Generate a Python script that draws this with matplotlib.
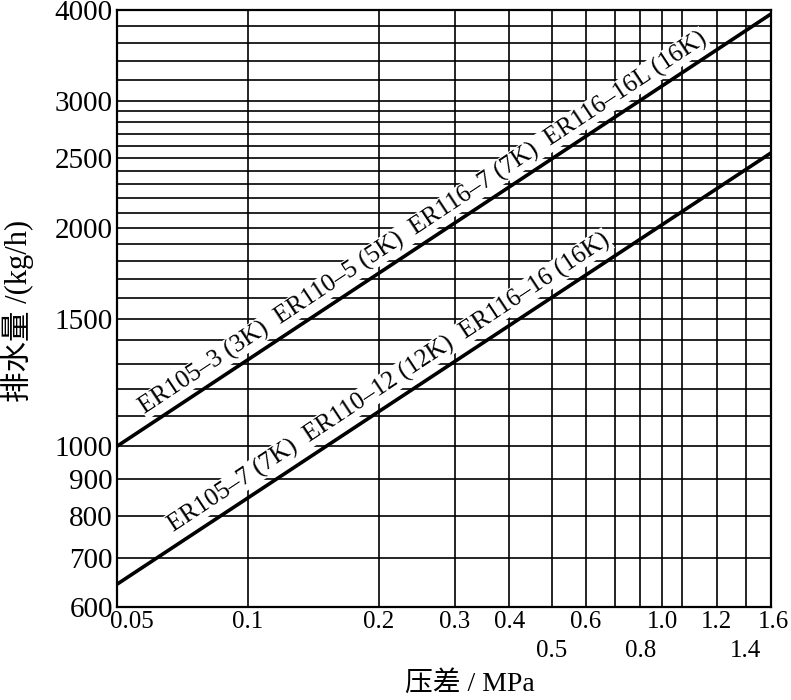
import numpy as np
import matplotlib.pyplot as plt
from matplotlib.transforms import ScaledTranslation

# data
dp = [0.05, 1.6]                  # MPa
flow_upper = [1000, 3950]         # kg/h
flow_lower = [645, 2540]

label_upper = "ER105–3 (3K)  ER110–5 (5K)  ER116–7 (7K)  ER116–16L (16K)"
label_lower = "ER105–7 (7K)  ER110–12 (12K)  ER116–16 (16K)"

x_grid = [0.1, 0.2, 0.3, 0.4, 0.5, 0.6, 0.7, 0.8, 0.9, 1.0, 1.2, 1.4]
y_grid = list(range(700, 3000, 100)) + [3000, 3200, 3400, 3600, 3800]

x_ticks_row1 = [0.05, 0.1, 0.2, 0.3, 0.4, 0.6, 1.0, 1.2, 1.6]
x_labels_row1 = ["0.05", "0.1", "0.2", "0.3", "0.4", "0.6", "1.0", "1.2", "1.6"]
x_ticks_row2 = [0.5, 0.8, 1.4]
x_labels_row2 = ["0.5", "0.8", "1.4"]
y_ticks = [600, 700, 800, 900, 1000, 1500, 2000, 2500, 3000, 4000]

serif = ['Liberation Serif', 'Noto Sans CJK SC']
plt.rcParams['font.family'] = serif

fig = plt.figure(figsize=(7.91, 7.0), dpi=100)
ax = fig.add_axes([117 / 791, 1 - 607 / 700, 654 / 791, 597 / 700])
ax.set_xscale('log')
ax.set_yscale('log')
ax.set_xlim(0.05, 1.6)
ax.set_ylim(600, 4000)

for x in x_grid:
    ax.axvline(x, color='black', lw=1.2, zorder=1)
for y in y_grid:
    ax.axhline(y, color='black', lw=1.2, zorder=1)

ax.plot(dp, flow_upper, color='black', lw=2.6, zorder=3, solid_capstyle='butt')
ax.plot(dp, flow_lower, color='black', lw=2.6, zorder=3, solid_capstyle='butt')

# rotation of the lines on screen
p0 = ax.transData.transform((dp[0], flow_upper[0]))
p1 = ax.transData.transform((dp[1], flow_upper[1]))
angle = np.degrees(np.arctan2(p1[1] - p0[1], p1[0] - p0[0]))

def place(x0, xs, ys, text, gap):
    # point on line at x0, shifted perpendicular by gap px
    y0 = np.exp(np.interp(np.log(x0), np.log(xs), np.log(ys)))
    px, py = ax.transData.transform((x0, y0))
    a = np.radians(angle)
    px -= gap * np.sin(a)
    py += gap * np.cos(a)
    tx, ty = ax.transData.inverted().transform((px, py))
    ax.text(tx, ty, text, rotation=angle, rotation_mode='anchor',
            ha='left', va='bottom', fontsize=18.2, zorder=4,
            bbox=dict(fc='white', ec='none', pad=0.5))

place(0.0599, dp, flow_upper, label_upper, 6)
place(0.070, dp, flow_lower, label_lower, 7)

ax.minorticks_off()
ax.set_xticks(x_ticks_row1, x_labels_row1)
ax.set_xticks(x_ticks_row2, x_labels_row2, minor=True)
ax.set_yticks(y_ticks, [str(v) for v in y_ticks])
ax.tick_params(axis='x', which='major', length=0, labelsize=18, pad=3)
ax.tick_params(axis='x', which='minor', length=0, labelsize=18, pad=24)
ax.tick_params(axis='y', length=0, labelsize=21, pad=3)

# nudge a few crowded x labels like the original
shifts = {"0.05": 15, "1.0": -20, "1.6": 2}
for lab in ax.get_xticklabels():
    dx = shifts.get(lab.get_text())
    if dx:
        lab.set_transform(lab.get_transform() + ScaledTranslation(dx / 100, 0, fig.dpi_scale_trans))

for s in ax.spines.values():
    s.set_linewidth(1.6)

fig.text(17 / 791, 1 - 311 / 700, "排水量 /(kg/h)", rotation=90,
         ha='center', va='center', fontsize=22)
fig.text(470 / 791, 1 - 684 / 700, "压差 / MPa", ha='center', va='center',
         fontsize=20)

fig.savefig('out.png', dpi=100)
